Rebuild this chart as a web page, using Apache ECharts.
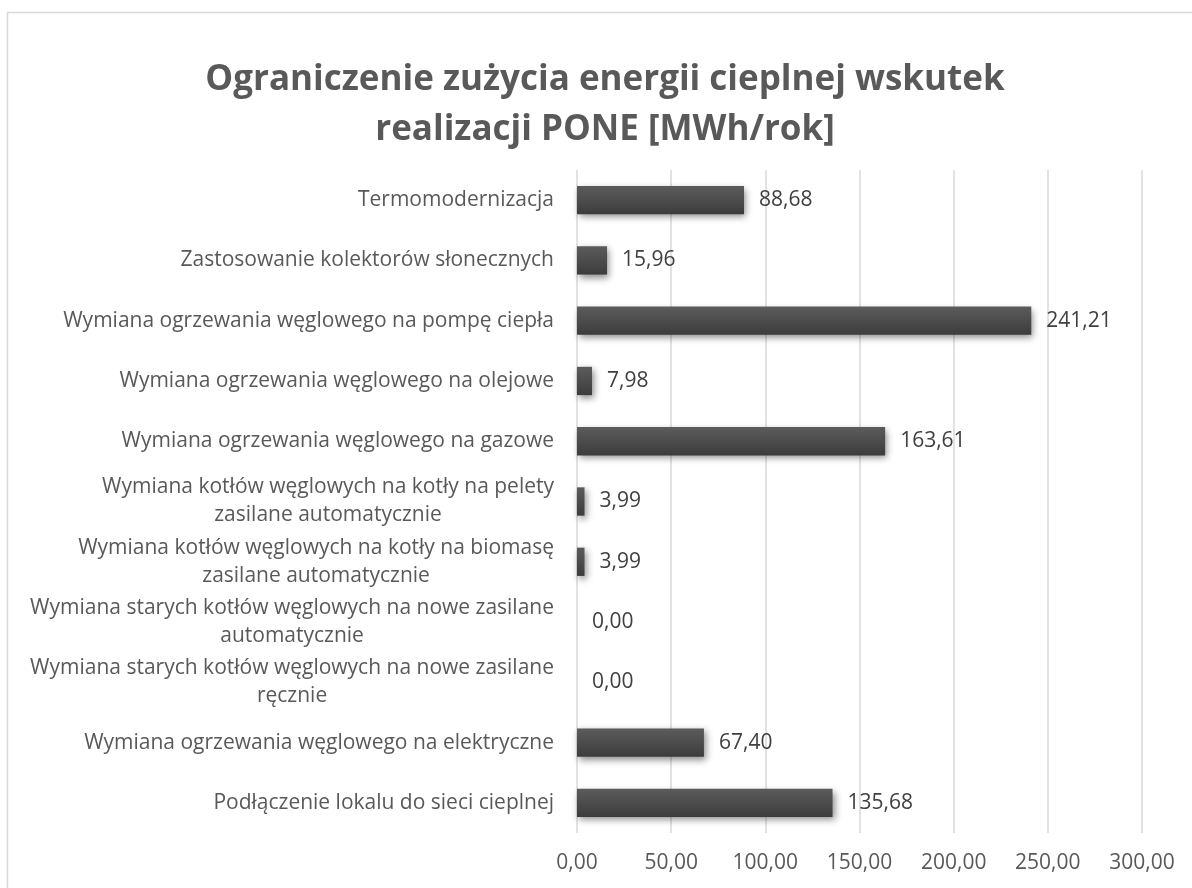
<!DOCTYPE html>
<html>
<head>
<meta charset="utf-8">
<style>
html,body{margin:0;padding:0;background:#fff;}
#c{width:1192px;height:888px;}
</style>
<script src="https://cdn.jsdelivr.net/npm/echarts@6/dist/echarts.min.js"></script>
</head>
<body>
<div id="c"></div>
<script>
const titleText = 'Ograniczenie zużycia energii cieplnej wskutek\nrealizacji PONE [MWh/rok]';
const categories = [
  'Termomodernizacja',
  'Zastosowanie kolektorów słonecznych',
  'Wymiana ogrzewania węglowego na pompę ciepła',
  'Wymiana ogrzewania węglowego na olejowe',
  'Wymiana ogrzewania węglowego na gazowe',
  'Wymiana kotłów węglowych na kotły na pelety\nzasilane automatycznie',
  'Wymiana kotłów węglowych na kotły na biomasę\nzasilane automatycznie',
  'Wymiana starych kotłów węglowych na nowe zasilane\nautomatycznie',
  'Wymiana starych kotłów węglowych na nowe zasilane\nręcznie',
  'Wymiana ogrzewania węglowego na elektryczne',
  'Podłączenie lokalu do sieci cieplnej'
];
const values = [88.68, 15.96, 241.21, 7.98, 163.61, 3.99, 3.99, 0.00, 0.00, 67.40, 135.68];
const xTicks = [0, 50, 100, 150, 200, 250, 300];

const fmt = v => Number(v).toFixed(2).replace('.', ',');
const FONT = '"Open Sans", sans-serif';

const chart = echarts.init(document.getElementById('c'), null, {renderer: 'canvas'});
chart.setOption({
  animation: false,
  backgroundColor: '#fff',
  graphic: [{
    type: 'rect',
    shape: {x: 7.5, y: 12.5, width: 1200, height: 900},
    style: {fill: 'none', stroke: '#d9d9d9', lineWidth: 1.5},
    z: -1
  }],
  title: {
    text: titleText,
    left: 600,
    top: 50,
    textAlign: 'center',
    textStyle: {
      fontFamily: FONT,
      fontWeight: 'bold',
      fontSize: 35,
      lineHeight: 50,
      color: '#595959'
    }
  },
  grid: {left: 577, right: 50, top: 170, bottom: 55, containLabel: false},
  xAxis: {
    type: 'value',
    min: xTicks[0],
    max: xTicks[xTicks.length - 1],
    interval: 50,
    axisLine: {show: false},
    axisTick: {show: false},
    splitLine: {show: true, lineStyle: {color: '#d9d9d9', width: 1.5}},
    axisLabel: {
      margin: 20,
      fontFamily: FONT,
      fontSize: 21,
      color: '#595959',
      formatter: v => fmt(v)
    }
  },
  yAxis: {
    type: 'category',
    inverse: true,
    data: categories,
    axisLine: {show: false},
    axisTick: {show: false},
    axisLabel: {
      margin: 23,
      align: 'right',
      fontFamily: FONT,
      fontSize: 21,
      color: '#595959',
      formatter: v => v.split('\n').map(l => '{c|' + l + '}').join('\n'),
      rich: {
        c: {align: 'center', fontFamily: FONT, fontSize: 21, lineHeight: 28, color: '#595959'}
      }
    }
  },
  series: [{
    type: 'bar',
    data: values,
    barWidth: '47%',
    itemStyle: {
      color: new echarts.graphic.LinearGradient(0, 0, 0, 1, [
        {offset: 0, color: '#5c5c5c'},
        {offset: 1, color: '#3c3c3c'}
      ]),
      shadowColor: 'rgba(0,0,0,0.45)',
      shadowBlur: 7,
      shadowOffsetX: 2,
      shadowOffsetY: 3
    },
    label: {
      show: true,
      position: 'right',
      distance: 15,
      fontFamily: FONT,
      fontSize: 21,
      color: '#404040',
      formatter: p => fmt(p.value)
    }
  }]
});
</script>
</body>
</html>
